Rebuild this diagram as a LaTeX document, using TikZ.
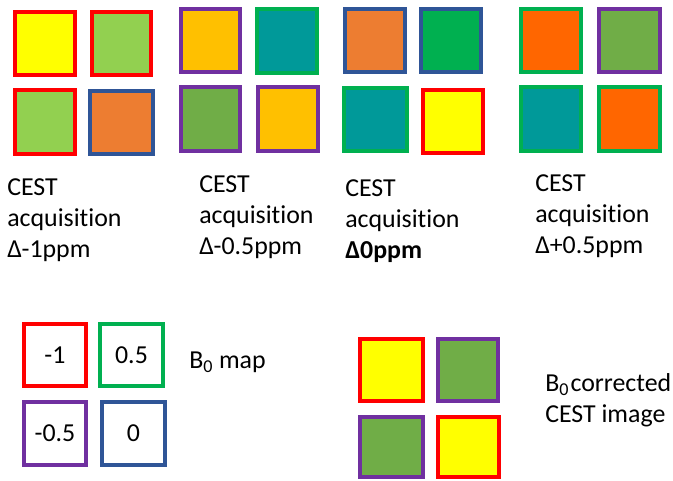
\documentclass[tikz,border=0pt]{standalone}
\usepackage{fontspec}
\setmainfont[Ligatures={TeX,NoCommon}]{Carlito}
\definecolor{cred}{HTML}{FF0000}
\definecolor{cgreen}{HTML}{00B050}
\definecolor{cpurple}{HTML}{7030A0}
\definecolor{cblue}{HTML}{2F5597}
\definecolor{cyellow}{HTML}{FFFF00}
\definecolor{clime}{HTML}{92D050}
\definecolor{corange}{HTML}{ED7D31}
\definecolor{cgold}{HTML}{FFC000}
\definecolor{cteal}{HTML}{009999}
\definecolor{cdorange}{HTML}{FF6600}
\definecolor{colive}{HTML}{70AD47}
\newcommand\labelfont{\fontsize{19.4}{23.25}\selectfont}
% #1 name, #2-#5 outer edges (x1,y1,x2,y2 in px), #6 fill, #7 border, #8 text
\newcommand\sqcell[8]{%
  \node[cell, fill=#6, draw=#7,
        minimum width={(#4-#2-4)*0.75pt}, minimum height={(#5-#3-4)*0.75pt}]
        (#1) at ({(#2+#4)/2},{(#3+#5)/2}) {#8};}
\begin{document}
\begin{tikzpicture}[x=0.75pt,y=-0.75pt,
  cell/.style={line width=3pt, inner sep=0pt, font=\labelfont},
  lbl/.style={anchor=base west, align=left, inner sep=0pt, font=\labelfont}]
\useasboundingbox (0,0) rectangle (673,480);

% acquisition at -1 ppm
\sqcell{ga}{13}{10}{77}{77}{cyellow}{cred}{}
\sqcell{gb}{90}{10}{153}{77}{clime}{cred}{}
\sqcell{gc}{13}{88}{77}{156}{clime}{cred}{}
\sqcell{gd}{88}{89}{155}{156}{corange}{cblue}{}
% acquisition at -0.5 ppm
\sqcell{ha}{179}{7}{242}{74}{cgold}{cpurple}{}
\sqcell{hb}{255}{7}{319}{75}{cteal}{cgreen}{}
\sqcell{hc}{179}{85}{242}{153}{colive}{cpurple}{}
\sqcell{hd}{256}{85}{320}{153}{cgold}{cpurple}{}
% acquisition at 0 ppm
\sqcell{ia}{343}{7}{407}{74}{corange}{cblue}{}
\sqcell{ib}{419}{7}{483}{74}{cgreen}{cblue}{}
\sqcell{ic}{342}{86}{409}{153}{cteal}{cgreen}{}
\sqcell{id}{421}{88}{485}{155}{cyellow}{cred}{}
% acquisition at +0.5 ppm
\sqcell{ja}{519}{7}{583}{74}{cdorange}{cgreen}{}
\sqcell{jb}{597}{7}{662}{74}{colive}{cpurple}{}
\sqcell{jc}{519}{85}{583}{153}{cteal}{cgreen}{}
\sqcell{jd}{597}{85}{662}{153}{cdorange}{cgreen}{}

% labels are anchored at the baseline of their last line
\node[lbl] (ta) at (7,257) {CEST\\acquisition\\Δ-1ppm};
\node[lbl] (tb) at (199,254) {CEST\\acquisition\\Δ-0.5ppm};
\node[lbl] (tc) at (345,258) {CEST\\acquisition\\\textbf{Δ0ppm}};
\node[lbl] (td) at (535,253) {CEST\\acquisition\\Δ+0.5ppm};

% B0 map
\sqcell{ma}{22}{322}{88}{388}{white}{cred}{-1}
\sqcell{mb}{98}{322}{165}{388}{white}{cgreen}{0.5}
\sqcell{mc}{22}{400}{88}{467}{white}{cpurple}{-0.5}
\sqcell{md}{100}{400}{167}{467}{white}{cblue}{0}
\node[lbl] (tm) at (189,368) {B\textsubscript{0} map};

% corrected image
\sqcell{ka}{358}{337}{425}{403}{cyellow}{cred}{}
\sqcell{kb}{436}{337}{500}{403}{colive}{cpurple}{}
\sqcell{kc}{358}{415}{425}{479}{colive}{cpurple}{}
\sqcell{kd}{436}{415}{501}{479}{cyellow}{cred}{}
\node[lbl] (tk) at (545,422) {B\textsubscript{0}\kern1pt corrected\\CEST image};
\end{tikzpicture}
\end{document}
